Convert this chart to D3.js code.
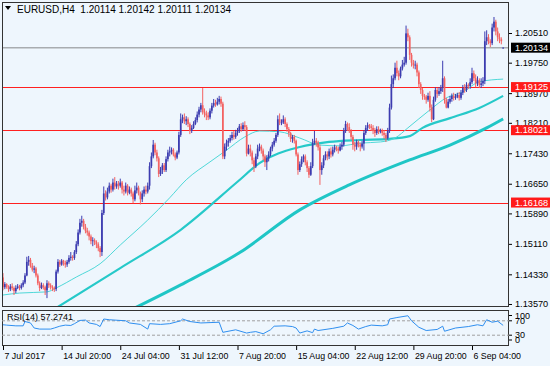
<!DOCTYPE html>
<html><head><meta charset="utf-8">
<script src="https://cdn.jsdelivr.net/npm/d3@7/dist/d3.min.js"></script>
<style>
html,body{margin:0;padding:0;background:#eef6fd;}
svg{display:block;font-family:"Liberation Sans",Arial,sans-serif;}
</style></head><body>
<svg id="c" width="550" height="366"></svg>
<script>
// ---------- DATA ----------
const symbolTitle = "EURUSD,H4";
const lastOHLC = [1.20114, 1.20142, 1.20111, 1.20134];
const timeLabels = ["7 Jul 2017","14 Jul 20:00","24 Jul 04:00","31 Jul 12:00","7 Aug 20:00","15 Aug 04:00","22 Aug 12:00","29 Aug 20:00","6 Sep 04:00"];
const timeLabelBars = [0,32,64,96,128,160,192,224,256];
const priceTicks = [1.20510,1.19750,1.18970,1.18210,1.17430,1.16650,1.15890,1.15110,1.14330,1.13570];
const levels = [1.19125,1.18021,1.16168];
const currentPrice = 1.20134;
const rsiTicks = [100,70,30,0];
const rsiLevels = [70,30];
const rsiTitle = "RSI(14) 57.2741";

// 4H bars, 7 Jul 2017 12:00 .. 11 Sep 2017 00:00 (six bars per trading day)
const closes = [
1.1400,1.1408,1.1400,
1.1395,1.1402,1.1398,1.1390,1.1398,1.1402,
1.1398,1.1405,1.1412,1.1430,1.1465,1.1470,
1.1455,1.1445,1.1448,1.1430,1.1410,1.1398,
1.1405,1.1400,1.1392,1.1410,1.1405,1.1400,
1.1398,1.1395,1.1440,1.1465,1.1458,1.1468,
1.1462,1.1458,1.1465,1.1475,1.1478,1.1475,
1.1490,1.1510,1.1540,1.1565,1.1570,1.1555,
1.1545,1.1540,1.1530,1.1518,1.1520,1.1515,
1.1510,1.1500,1.1490,1.1590,1.1640,1.1630,
1.1645,1.1660,1.1650,1.1668,1.1658,1.1665,
1.1660,1.1668,1.1650,1.1645,1.1660,1.1642,
1.1650,1.1640,1.1625,1.1648,1.1655,1.1642,
1.1625,1.1640,1.1650,1.1645,1.1660,1.1710,
1.1735,1.1765,1.1745,1.1730,1.1690,1.1700,
1.1712,1.1700,1.1728,1.1745,1.1748,1.1752,
1.1740,1.1732,1.1745,1.1790,1.1830,1.1835,
1.1825,1.1830,1.1818,1.1800,1.1808,1.1818,
1.1828,1.1842,1.1855,1.1866,1.1848,1.1845,
1.1840,1.1835,1.1852,1.1865,1.1872,1.1868,
1.1875,1.1882,1.1870,1.1735,1.1760,1.1770,
1.1775,1.1782,1.1790,1.1785,1.1795,1.1800,
1.1812,1.1805,1.1815,1.1810,1.1742,1.1755,
1.1745,1.1725,1.1710,1.1735,1.1755,1.1760,
1.1750,1.1735,1.1720,1.1730,1.1740,1.1755,
1.1765,1.1775,1.1790,1.1830,1.1822,1.1822,
1.1830,1.1818,1.1805,1.1795,1.1780,1.1785,
1.1775,1.1740,1.1700,1.1715,1.1728,1.1735,
1.1720,1.1705,1.1688,1.1710,1.1770,1.1775,
1.1770,1.1758,1.1700,1.1712,1.1730,1.1740,
1.1735,1.1748,1.1740,1.1752,1.1758,1.1755,
1.1750,1.1760,1.1765,1.1800,1.1818,1.1810,
1.1800,1.1785,1.1765,1.1760,1.1772,1.1765,
1.1760,1.1768,1.1795,1.1808,1.1815,1.1812,
1.1808,1.1800,1.1795,1.1805,1.1798,1.1800,
1.1795,1.1790,1.1782,1.1800,1.1860,1.1920,
1.1935,1.1962,1.1948,1.1940,1.1960,1.1970,
1.1975,1.2050,1.2040,1.1995,1.1975,1.1968,
1.1970,1.1950,1.1920,1.1905,1.1890,1.1888,
1.1880,1.1890,1.1860,1.1830,1.1880,1.1905,
1.1895,1.1902,1.1910,1.1935,1.1880,1.1860,
1.1875,1.1882,1.1890,1.1885,1.1888,1.1892,
1.1885,1.1898,1.1910,1.1905,1.1918,1.1915,
1.1925,1.1948,1.1935,1.1922,1.1930,1.1918,
1.1922,1.1928,1.2030,1.2040,1.2030,1.2025,
1.2065,1.2080,1.2055,1.2040,1.2035,1.2030,
1.20134];
const opens = [
1.1425,1.1400,1.1408,
1.1400,1.1395,1.1402,1.1398,1.1390,1.1398,
1.1402,1.1398,1.1405,1.1412,1.1430,1.1465,
1.1470,1.1455,1.1445,1.1448,1.1430,1.1410,
1.1398,1.1405,1.1400,1.1392,1.1410,1.1405,
1.1400,1.1398,1.1395,1.1440,1.1465,1.1458,
1.1468,1.1462,1.1458,1.1465,1.1475,1.1478,
1.1475,1.1490,1.1510,1.1540,1.1565,1.1570,
1.1555,1.1545,1.1540,1.1530,1.1518,1.1520,
1.1515,1.1510,1.1500,1.1490,1.1590,1.1640,
1.1630,1.1645,1.1660,1.1650,1.1668,1.1658,
1.1665,1.1660,1.1668,1.1650,1.1645,1.1660,
1.1642,1.1650,1.1640,1.1625,1.1648,1.1655,
1.1642,1.1625,1.1640,1.1650,1.1645,1.1660,
1.1710,1.1735,1.1765,1.1745,1.1730,1.1690,
1.1700,1.1712,1.1700,1.1728,1.1745,1.1748,
1.1752,1.1740,1.1732,1.1745,1.1790,1.1830,
1.1835,1.1825,1.1830,1.1818,1.1800,1.1808,
1.1818,1.1828,1.1842,1.1855,1.1866,1.1848,
1.1845,1.1840,1.1835,1.1852,1.1865,1.1872,
1.1868,1.1875,1.1882,1.1870,1.1735,1.1760,
1.1770,1.1775,1.1782,1.1790,1.1785,1.1795,
1.1800,1.1812,1.1805,1.1815,1.1810,1.1742,
1.1755,1.1745,1.1725,1.1710,1.1735,1.1755,
1.1760,1.1750,1.1735,1.1720,1.1730,1.1740,
1.1755,1.1765,1.1775,1.1790,1.1830,1.1822,
1.1822,1.1830,1.1818,1.1805,1.1795,1.1780,
1.1785,1.1775,1.1740,1.1700,1.1715,1.1728,
1.1735,1.1720,1.1705,1.1688,1.1710,1.1770,
1.1775,1.1770,1.1758,1.1700,1.1712,1.1730,
1.1740,1.1735,1.1748,1.1740,1.1752,1.1758,
1.1755,1.1750,1.1760,1.1765,1.1800,1.1818,
1.1810,1.1800,1.1785,1.1765,1.1760,1.1772,
1.1765,1.1760,1.1768,1.1795,1.1808,1.1815,
1.1812,1.1808,1.1800,1.1795,1.1805,1.1798,
1.1800,1.1795,1.1790,1.1782,1.1800,1.1860,
1.1920,1.1935,1.1962,1.1948,1.1940,1.1960,
1.1970,1.1975,1.2050,1.2040,1.1995,1.1975,
1.1968,1.1970,1.1950,1.1920,1.1905,1.1890,
1.1888,1.1880,1.1890,1.1860,1.1830,1.1880,
1.1905,1.1895,1.1902,1.1910,1.1935,1.1880,
1.1860,1.1875,1.1882,1.1890,1.1885,1.1888,
1.1892,1.1885,1.1898,1.1910,1.1905,1.1918,
1.1915,1.1925,1.1948,1.1935,1.1922,1.1930,
1.1918,1.1922,1.1928,1.2030,1.2040,1.2030,
1.2025,1.2065,1.2080,1.2055,1.2040,1.2035,
1.20114];
const highs = [
1.1436,1.1413,1.1410,
1.1405,1.1408,1.1410,1.1402,1.1405,1.1408,
1.1406,1.1410,1.1418,1.1436,1.1478,1.1480,
1.1475,1.1462,1.1455,1.1452,1.1435,1.1415,
1.1412,1.1410,1.1404,1.1418,1.1415,1.1410,
1.1405,1.1402,1.1445,1.1472,1.1470,1.1472,
1.1470,1.1468,1.1470,1.1482,1.1490,1.1482,
1.1495,1.1518,1.1548,1.1575,1.1583,1.1575,
1.1562,1.1552,1.1545,1.1535,1.1528,1.1525,
1.1520,1.1515,1.1505,1.1598,1.1658,1.1648,
1.1655,1.1668,1.1665,1.1678,1.1682,1.1672,
1.1672,1.1678,1.1672,1.1660,1.1668,1.1664,
1.1658,1.1655,1.1645,1.1660,1.1668,1.1660,
1.1645,1.1648,1.1658,1.1660,1.1668,1.1720,
1.1745,1.1777,1.1770,1.1752,1.1735,1.1708,
1.1718,1.1718,1.1735,1.1752,1.1760,1.1758,
1.1756,1.1745,1.1750,1.1798,1.1845,1.1842,
1.1845,1.1838,1.1835,1.1822,1.1815,1.1825,
1.1835,1.1850,1.1862,1.1872,1.1910,1.1858,
1.1852,1.1848,1.1858,1.1872,1.1882,1.1880,
1.1885,1.1890,1.1888,1.1875,1.1768,1.1778,
1.1782,1.1790,1.1798,1.1800,1.1803,1.1808,
1.1818,1.1820,1.1822,1.1825,1.1815,1.1765,
1.1765,1.1750,1.1732,1.1742,1.1765,1.1768,
1.1765,1.1755,1.1740,1.1738,1.1748,1.1760,
1.1772,1.1782,1.1795,1.1840,1.1845,1.1830,
1.1840,1.1835,1.1822,1.1810,1.1798,1.1790,
1.1790,1.1778,1.1745,1.1722,1.1735,1.1740,
1.1740,1.1725,1.1710,1.1720,1.1780,1.1800,
1.1782,1.1775,1.1765,1.1720,1.1738,1.1748,
1.1748,1.1755,1.1758,1.1760,1.1765,1.1762,
1.1760,1.1768,1.1772,1.1808,1.1826,1.1822,
1.1820,1.1805,1.1790,1.1772,1.1778,1.1776,
1.1770,1.1775,1.1802,1.1815,1.1822,1.1818,
1.1818,1.1815,1.1808,1.1812,1.1812,1.1806,
1.1806,1.1802,1.1795,1.1808,1.1870,1.1942,
1.1945,1.1975,1.1980,1.1955,1.1965,1.1982,
1.1990,1.2070,1.2062,1.2045,1.2000,1.1982,
1.1980,1.1975,1.1955,1.1925,1.1910,1.1895,
1.1892,1.1898,1.1902,1.1868,1.1888,1.1912,
1.1910,1.1912,1.1918,1.1980,1.1940,1.1885,
1.1882,1.1890,1.1896,1.1898,1.1895,1.1898,
1.1900,1.1905,1.1918,1.1920,1.1925,1.1922,
1.1935,1.1962,1.1955,1.1945,1.1940,1.1935,
1.1935,1.1938,1.2055,1.2058,1.2048,1.2035,
1.2075,1.2092,1.2085,1.2065,1.2050,1.2040,
1.20142];
const lows = [
1.1392,1.1395,1.1396,
1.1388,1.1390,1.1392,1.1380,1.1385,1.1395,
1.1392,1.1394,1.1400,1.1408,1.1428,1.1455,
1.1450,1.1440,1.1436,1.1425,1.1405,1.1390,
1.1395,1.1394,1.1380,1.1372,1.1398,1.1394,
1.1390,1.1388,1.1390,1.1435,1.1452,1.1455,
1.1455,1.1450,1.1452,1.1460,1.1468,1.1468,
1.1470,1.1485,1.1505,1.1535,1.1555,1.1548,
1.1538,1.1532,1.1520,1.1510,1.1505,1.1508,
1.1500,1.1492,1.1477,1.1480,1.1585,1.1622,
1.1625,1.1640,1.1642,1.1645,1.1650,1.1652,
1.1650,1.1655,1.1640,1.1635,1.1640,1.1635,
1.1638,1.1632,1.1615,1.1620,1.1640,1.1635,
1.1612,1.1618,1.1632,1.1638,1.1640,1.1650,
1.1705,1.1730,1.1738,1.1722,1.1682,1.1685,
1.1690,1.1695,1.1695,1.1722,1.1735,1.1740,
1.1735,1.1725,1.1728,1.1740,1.1785,1.1820,
1.1818,1.1815,1.1810,1.1792,1.1795,1.1805,
1.1815,1.1822,1.1835,1.1848,1.1842,1.1835,
1.1828,1.1828,1.1830,1.1845,1.1860,1.1862,
1.1865,1.1868,1.1862,1.1728,1.1728,1.1750,
1.1760,1.1770,1.1776,1.1778,1.1780,1.1788,
1.1795,1.1798,1.1800,1.1802,1.1735,1.1740,
1.1735,1.1715,1.1695,1.1705,1.1728,1.1748,
1.1742,1.1725,1.1708,1.1700,1.1722,1.1735,
1.1748,1.1760,1.1770,1.1785,1.1815,1.1815,
1.1818,1.1810,1.1798,1.1785,1.1772,1.1770,
1.1768,1.1735,1.1688,1.1695,1.1708,1.1720,
1.1712,1.1695,1.1680,1.1685,1.1705,1.1765,
1.1760,1.1750,1.1662,1.1688,1.1705,1.1725,
1.1725,1.1728,1.1732,1.1735,1.1745,1.1748,
1.1742,1.1748,1.1752,1.1760,1.1795,1.1800,
1.1795,1.1778,1.1752,1.1748,1.1752,1.1758,
1.1748,1.1755,1.1750,1.1790,1.1800,1.1805,
1.1800,1.1792,1.1785,1.1790,1.1792,1.1794,
1.1788,1.1780,1.1772,1.1778,1.1795,1.1855,
1.1910,1.1930,1.1940,1.1930,1.1935,1.1955,
1.1965,1.1970,1.2030,1.1982,1.1965,1.1960,
1.1958,1.1940,1.1910,1.1895,1.1880,1.1880,
1.1870,1.1875,1.1850,1.1823,1.1828,1.1875,
1.1885,1.1890,1.1895,1.1900,1.1870,1.1858,
1.1858,1.1870,1.1875,1.1878,1.1880,1.1884,
1.1878,1.1880,1.1892,1.1898,1.1900,1.1908,
1.1908,1.1920,1.1928,1.1912,1.1915,1.1910,
1.1910,1.1915,1.1920,1.2020,1.2022,1.2015,
1.2020,1.2055,1.2045,1.2030,1.2025,1.2022,
1.20111];

// moving averages: bar index and value
const maFastBars  = [0,9,24,29,40,53,64,79,91,100,113,122,132,140,151,162,173,184,195,206,214,221,233,242,251,260,273];
const maFastVals  = [1.1380,1.1385,1.1388,1.1398,1.1426,1.1460,1.1508,1.1572,1.1629,1.1675,1.1721,1.1751,1.1785,1.1800,1.1798,1.1782,1.1764,1.1762,1.1769,1.1772,1.1782,1.1808,1.1854,1.1885,1.1900,1.1926,1.1933];
const maMidBars   = [26,64,97,128,140,162,178,195,211,222,229,244,260,273];
const maMidVals   = [1.1338,1.1449,1.1547,1.1670,1.1718,1.1759,1.1772,1.1777,1.1780,1.1787,1.1808,1.1833,1.1859,1.1890];
const maSlowBars  = [69,97,129,162,189,222,244,264,273];
const maSlowVals  = [1.1340,1.1406,1.1488,1.1598,1.1662,1.1726,1.1764,1.1808,1.1831];

// RSI(14)
const rsiBars = [0,2,7,11,12,15,17,20,26,28,31,34,37,39,42,45,47,51,53,55,58,67,69,75,79,80,86,91,97,98,102,108,113,118,120,127,133,135,138,142,146,148,154,158,160,162,166,169,170,172,180,186,188,191,194,198,201,207,210,211,215,221,223,227,231,237,240,241,247,254,259,262,264,267,270,273];
const rsiVals = [59,58,56,56,68,64,50,47,47,50,55,58,57,62,71,72,64,60,54,75,73,70,64,60,47,62,60,62,70,75,68,64,65,66,38,45,36,38,40,34,45,55,56,54,50,36,42,37,47,43,49,55,64,57,47,54,58,56,59,75,79,84,70,52,43,46,55,41,50,54,59,56,73,66,69,57.27];

// ---------- DRAW ----------
const svg = d3.select("#c");
const L = 2, R = 509, T = 2, B = 307, rT = 310, rB = 346;
const bull = "#3c3cb0", bear = "#f36262";

const x = d3.scaleLinear().domain([0, 256]).range([3, 472]);
const y = d3.scaleLinear().domain([1.13493, 1.21304]).range([B, T]);
const yR = d3.scaleLinear().domain([0, 100]).range([rB, rT]);

svg.append("rect").attr("width",550).attr("height",366).attr("fill","#eef6fd");

const defs = svg.append("defs");
defs.append("clipPath").attr("id","mainClip").append("rect").attr("x",L).attr("y",T).attr("width",R-L).attr("height",B-T);
defs.append("clipPath").attr("id","rsiClip").append("rect").attr("x",L).attr("y",rT).attr("width",R-L).attr("height",rB-rT);

const main = svg.append("g").attr("clip-path","url(#mainClip)");

// horizontal levels
main.selectAll("line.lvl").data(levels).join("line")
  .attr("x1",L).attr("x2",R).attr("y1",d=>Math.round(y(d))+0.5).attr("y2",d=>Math.round(y(d))+0.5)
  .attr("stroke","#ff2020").attr("stroke-width",1);

// moving averages
function maLine(bars, vals, w, col){
  main.append("path").datum(bars.map((b,i)=>[b,vals[i]]))
    .attr("fill","none").attr("stroke",col).attr("stroke-width",w).attr("stroke-linejoin","round")
    .attr("d", d3.line().x(d=>x(d[0])).y(d=>y(d[1])).curve(d3.curveMonotoneX));
}
maLine(maSlowBars, maSlowVals, 3, "#1fc6c6");
maLine(maMidBars, maMidVals, 2.2, "#26c9c9");
maLine(maFastBars, maFastVals, 1, "#4fd8d8");

// current price line
main.append("line").attr("x1",L).attr("x2",R).attr("y1",y(currentPrice)).attr("y2",y(currentPrice))
  .attr("stroke","#a8acb0").attr("stroke-width",1.5);

// candles
const idx = d3.range(closes.length);
const up = i => closes[i] >= opens[i];
main.selectAll("line.wick").data(idx).join("line")
  .attr("x1",i=>x(i)).attr("x2",i=>x(i))
  .attr("y1",i=>y(highs[i])).attr("y2",i=>y(lows[i]))
  .attr("stroke",i=>up(i)?bull:bear).attr("stroke-width",1);
main.selectAll("rect.body").data(idx).join("rect")
  .attr("x",i=>x(i)-0.85).attr("width",1.7)
  .attr("y",i=>y(Math.max(opens[i],closes[i])))
  .attr("height",i=>Math.max(0.8, Math.abs(y(opens[i])-y(closes[i]))))
  .attr("fill",i=>up(i)?bull:bear);

// frames
svg.append("rect").attr("x",L+0.5).attr("y",T+0.5).attr("width",R-L-1).attr("height",B-T-1)
  .attr("fill","none").attr("stroke","#333");
svg.append("rect").attr("x",L+0.5).attr("y",rT+0.5).attr("width",R-L-1).attr("height",rB-rT-1)
  .attr("fill","none").attr("stroke","#333");

// header
svg.append("path").attr("d","M5,6 L11,6 L8,10 Z").attr("fill","#000");
svg.append("text").attr("x",17).attr("y",13).attr("font-size",10).attr("fill","#000")
  .attr("xml:space","preserve")
  .text(symbolTitle + "  " + lastOHLC.map(d=>d.toFixed(5)).join(" "));

// price axis
const pa = svg.append("g").attr("transform",`translate(${R},0)`)
  .call(d3.axisRight(y).tickValues(priceTicks).tickSize(3).tickPadding(3).tickFormat(d3.format(".5f")));
pa.select(".domain").remove();
pa.selectAll("line").attr("stroke","#000");
pa.selectAll("text").attr("font-size",9.2).attr("fill","#000").attr("font-family","Liberation Sans, Arial, sans-serif");

// level labels
function tag(v, bg){
  const g = svg.append("g");
  g.append("rect").attr("x",511).attr("y",y(v)-5).attr("width",39).attr("height",10).attr("fill",bg);
  g.append("text").attr("x",515).attr("y",y(v)).attr("dy","0.35em").attr("font-size",9.2)
    .attr("fill","#fff").text(v.toFixed(5));
}
levels.forEach(v=>tag(v,"#ff1a1a"));
tag(currentPrice,"#000");

// RSI panel
const rg = svg.append("g").attr("clip-path","url(#rsiClip)");
rg.selectAll("line.rl").data(rsiLevels).join("line")
  .attr("x1",L).attr("x2",R).attr("y1",d=>yR(d)).attr("y2",d=>yR(d))
  .attr("stroke","#a0a0a0").attr("stroke-dasharray","3,2");
rg.append("path").datum(rsiBars.map((b,i)=>[b,rsiVals[i]]))
  .attr("fill","none").attr("stroke","#2f8ff0").attr("stroke-width",1)
  .attr("d", d3.line().x(d=>x(d[0])).y(d=>yR(d[1])));
svg.append("text").attr("x",7).attr("y",320).attr("font-size",9).attr("fill","#000").text(rsiTitle);

const ra = svg.append("g").attr("transform",`translate(${R},0)`);
rsiTicks.forEach(v=>{
  const cy = Math.min(Math.max(yR(v), rT+5.5), rB-6);
  ra.append("line").attr("x1",0).attr("x2",3).attr("y1",cy).attr("y2",cy).attr("stroke","#000");
  ra.append("text").attr("x",6).attr("y",cy).attr("dy","0.35em").attr("font-size",9).attr("fill","#000").text(v);
});

// time axis
const ta = svg.append("g").attr("transform",`translate(0,${rB})`)
  .call(d3.axisBottom(x).tickValues(timeLabelBars).tickSize(4).tickFormat((d,i)=>timeLabels[i]));
ta.select(".domain").remove();
ta.selectAll("line").attr("stroke","#000");
ta.selectAll("text").attr("text-anchor","start").attr("dx",1).attr("y",7)
  .attr("font-size",8.8).attr("fill","#000").attr("font-family","Liberation Sans, Arial, sans-serif");
</script>
</body></html>
